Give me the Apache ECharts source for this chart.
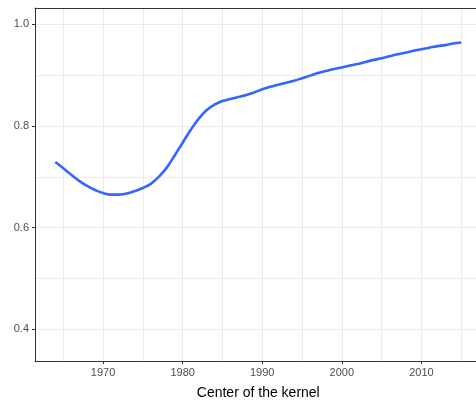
<!DOCTYPE html>
<html>
<head>
<meta charset="utf-8">
<script src="https://cdn.jsdelivr.net/npm/echarts@6/dist/echarts.min.js"></script>
<style>html,body{margin:0;padding:0;background:#fff}#c{width:476px;height:402px}</style>
</head>
<body>
<div id="c"></div>
<script>
var years = [1964,1965,1966,1967,1968,1969,1970,1971,1972,1973,1974,1975,1976,1977,1978,1979,1980,1981,1982,1983,1984,1985,1986,1987,1988,1989,1990,1991,1992,1993,1994,1995,1996,1997,1998,1999,2000,2001,2002,2003,2004,2005,2006,2007,2008,2009,2010,2011,2012,2013,2014,2015];
var values = [0.729,0.717,0.704,0.692,0.682,0.674,0.668,0.665,0.665,0.667,0.672,0.678,0.686,0.700,0.718,0.742,0.767,0.792,0.814,0.831,0.842,0.849,0.853,0.857,0.861,0.866,0.872,0.877,0.881,0.885,0.889,0.894,0.899,0.904,0.908,0.912,0.915,0.919,0.922,0.926,0.930,0.933,0.937,0.941,0.944,0.948,0.951,0.954,0.957,0.959,0.962,0.964];
var xTicks = [1970,1980,1990,2000,2010];
var xGrid = [1965,1970,1975,1980,1985,1990,1995,2000,2005,2010,2015];
var yTicks = [0.4,0.6,0.8,1.0];
var yGrid = [0.4,0.5,0.6,0.7,0.8,0.9,1.0];
var xLabel = 'Center of the kernel';

var X_MIN = 1961.45, X_MAX = 2017.55, Y_MIN = 0.3377, Y_MAX = 1.032;
var font = 'Liberation Sans, Arial, sans-serif';
var chart = echarts.init(document.getElementById('c'), null, {renderer:'canvas'});
chart.setOption({
  animation: false,
  grid: {left: 35, top: 8, width: 446.5, height: 353, show: false, containLabel: false, outerBoundsMode: 'none'},
  xAxis: [
    {type:'value', position:'top', min:X_MIN, max:X_MAX,
     axisLine:{show:true, onZero:false, lineStyle:{color:'#333333', width:1}}, axisLabel:{show:false},
     axisTick:{show:false, customValues:xGrid},
     splitLine:{show:true, lineStyle:{color:'#ebebeb', width:1}}},
    {type:'value', position:'bottom', min:X_MIN, max:X_MAX,
     name:xLabel, nameLocation:'middle', nameGap:25,
     nameTextStyle:{color:'#000', fontSize:14, fontFamily:font},
     axisLine:{show:true, onZero:false, lineStyle:{color:'#333333', width:1}},
     axisTick:{show:true, length:3, customValues:xTicks, lineStyle:{color:'#333333'}},
     axisLabel:{show:true, customValues:xTicks, color:'#4d4d4d', fontSize:11, fontFamily:font, margin:6,
       formatter:function(v){return String(v);}},
     splitLine:{show:false}}
  ],
  yAxis: [
    {type:'value', position:'right', min:Y_MIN, max:Y_MAX,
     axisLine:{show:true, onZero:false, lineStyle:{color:'#333333', width:1}}, axisLabel:{show:false},
     axisTick:{show:false, customValues:yGrid},
     splitLine:{show:true, lineStyle:{color:'#ebebeb', width:1}}},
    {type:'value', position:'left', min:Y_MIN, max:Y_MAX,
     axisLine:{show:true, onZero:false, lineStyle:{color:'#333333', width:1}},
     axisTick:{show:true, length:3, customValues:yTicks, lineStyle:{color:'#333333'}},
     axisLabel:{show:true, customValues:yTicks, color:'#4d4d4d', fontSize:11, fontFamily:font, margin:6,
       formatter:function(v){return v.toFixed(1);}},
     splitLine:{show:false}}
  ],
  series: [{
    type:'line', xAxisIndex:1, yAxisIndex:1,
    data: years.map(function(y,i){return [y, values[i]];}),
    showSymbol:false, smooth:0.4,
    lineStyle:{color:'#3366FF', width:2.6}
  }]
});
</script>
</body>
</html>
